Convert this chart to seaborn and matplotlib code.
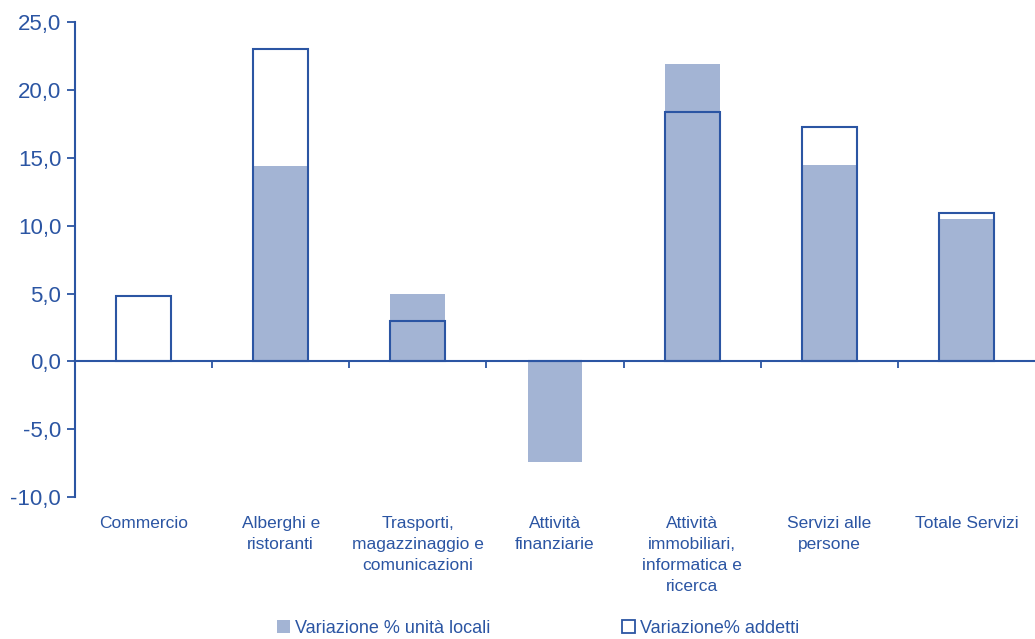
import pandas as pd
import matplotlib
matplotlib.use('Agg')
import matplotlib.pyplot as plt
from matplotlib.patches import Patch
from matplotlib.ticker import FuncFormatter, FixedLocator
import seaborn as sns

# Dati
settori = ['Commercio', 'Alberghi e\nristoranti', 'Trasporti,\nmagazzinaggio e\ncomunicazioni',
           'Attività\nfinanziarie', 'Attività\nimmobiliari,\ninformatica e\nricerca',
           'Servizi alle\npersone', 'Totale Servizi']
unita_locali = [0.1, 14.4, 5.0, -7.4, 21.9, 14.5, 10.5]
addetti = [4.8, 23.0, 3.0, 0.0, 18.4, 17.3, 10.9]

df = pd.DataFrame({'Settore': settori, 'Unita': unita_locali, 'Addetti': addetti})

blu = '#2b55a3'
azzurro = '#a3b4d4'

sns.set_style('white')
plt.rcParams['font.family'] = ['Liberation Sans', 'DejaVu Sans']

fig = plt.figure(figsize=(10.35, 6.39), dpi=100)
ax = fig.add_axes([0.0725, 0.222, 0.9275, 0.7436])

# Barre piene: variazione unità locali
sns.barplot(data=df, x='Settore', y='Unita', color=azzurro, width=0.4,
            saturation=1, linewidth=0, ax=ax)
# Barre vuote: variazione addetti
sns.barplot(data=df, x='Settore', y='Addetti', fill=False, width=0.4,
            edgecolor=blu, linewidth=1.5, ax=ax)

ax.set_xlim(-0.5, len(settori) - 0.5)
ax.set_ylim(-10, 25)
ax.set_yticks([-10, -5, 0, 5, 10, 15, 20, 25])
ax.yaxis.set_major_formatter(FuncFormatter(lambda v, p: f'{v:.1f}'.replace('.', ',')))
ax.set_xlabel('')
ax.set_ylabel('')

for s in ['top', 'right']:
    ax.spines[s].set_visible(False)
ax.spines['left'].set_color(blu)
ax.spines['left'].set_linewidth(1.5)
ax.spines['bottom'].set_position(('data', 0))
ax.spines['bottom'].set_color(blu)
ax.spines['bottom'].set_linewidth(1.5)

ax.tick_params(axis='y', direction='out', length=6, width=1.3, color=blu,
               labelcolor=blu, labelsize=16, pad=4, left=True)
ax.tick_params(axis='x', which='major', length=0, labelcolor=blu, labelsize=12.5, pad=111)
ax.xaxis.set_minor_locator(FixedLocator([i + 0.5 for i in range(len(settori) - 1)]))
ax.tick_params(axis='x', which='minor', direction='out', length=5, width=1.3,
               color=blu, bottom=True)
for t in ax.get_xticklabels():
    t.set_verticalalignment('top')
    t.set_linespacing(1.52)

handles = [Patch(facecolor=azzurro, edgecolor='none', label='Variazione % unità locali'),
           Patch(facecolor='white', edgecolor=blu, linewidth=1.3, label='Variazione% addetti')]
leg = fig.legend(handles=handles, loc='lower center', bbox_to_anchor=(0.52, -0.022), ncol=2,
                 frameon=False, fontsize=13, handlelength=0.7, handleheight=0.7,
                 handletextpad=0.3, columnspacing=7.3)
for t in leg.get_texts():
    t.set_color(blu)

fig.savefig('out.png', dpi=100)
